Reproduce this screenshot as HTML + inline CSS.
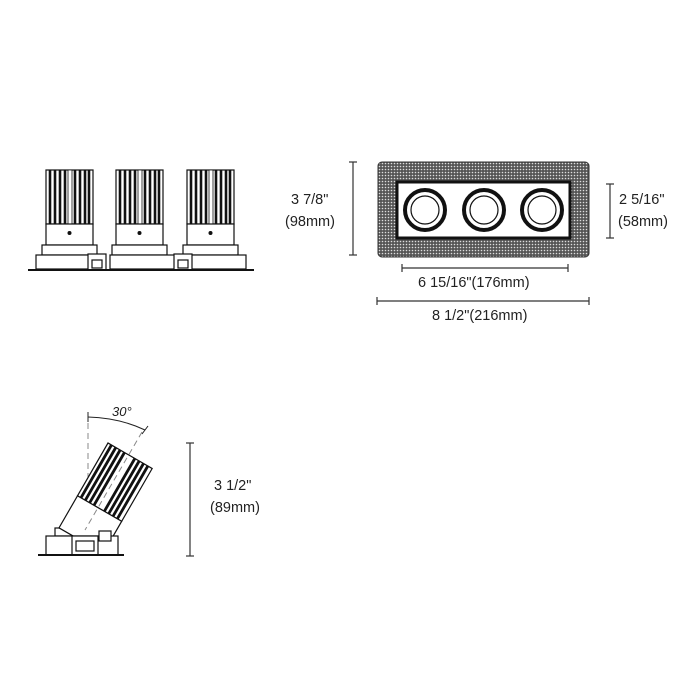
<!DOCTYPE html>
<html><head><meta charset="utf-8"><style>
html,body{margin:0;padding:0;background:#fff;}
svg{display:block;}
text{font-family:"Liberation Sans",sans-serif;font-size:14.5px;fill:#222;}
</style></head><body>
<svg width="700" height="700" viewBox="0 0 700 700" xmlns="http://www.w3.org/2000/svg">
<defs>
<pattern id="dots" width="3" height="3" patternUnits="userSpaceOnUse">
<rect width="3" height="3" fill="#555"/><circle cx="1.5" cy="1.5" r="0.8" fill="#ddd"/>
</pattern>
<g id="cyl">
<rect x="0" y="0" width="47" height="54" fill="#fff" stroke="#111" stroke-width="1.2"/>
<g stroke="#111" stroke-width="2.6">
<line x1="4" y1="0" x2="4" y2="54"/><line x1="9" y1="0" x2="9" y2="54"/><line x1="14" y1="0" x2="14" y2="54"/>
<line x1="19" y1="0" x2="19" y2="54"/><line x1="29" y1="0" x2="29" y2="54"/><line x1="34" y1="0" x2="34" y2="54"/>
<line x1="39" y1="0" x2="39" y2="54"/><line x1="43" y1="0" x2="43" y2="54"/>
</g>
<rect x="22" y="0" width="4" height="54" fill="#fff" stroke="#111" stroke-width="0.8"/>
<rect x="0" y="54" width="47" height="21" fill="#fff" stroke="#111" stroke-width="1.2"/>
<circle cx="23.5" cy="63" r="2" fill="#111"/>
</g>
</defs>

<!-- Front view -->
<use href="#cyl" x="46" y="170"/>
<use href="#cyl" x="116" y="170"/>
<use href="#cyl" x="187" y="170"/>
<g fill="#fff" stroke="#111" stroke-width="1.2">
<rect x="42" y="245" width="55" height="10"/><rect x="112" y="245" width="55" height="10"/><rect x="183" y="245" width="55" height="10"/>
<rect x="36" y="255" width="54" height="14"/><rect x="110" y="255" width="65" height="14"/><rect x="180" y="255" width="66" height="14"/>
<rect x="88" y="254" width="18" height="16"/><rect x="174" y="254" width="18" height="16"/>
<rect x="92" y="260" width="10" height="8"/><rect x="178" y="260" width="10" height="8"/>
</g>
<line x1="28" y1="270" x2="254" y2="270" stroke="#111" stroke-width="2"/>

<!-- Top view -->
<rect x="378" y="162" width="211" height="95" rx="4" fill="url(#dots)" stroke="#333" stroke-width="1"/>
<rect x="397" y="182" width="173" height="56" fill="#fff" stroke="#111" stroke-width="3"/>
<g fill="#fff" stroke="#111">
<circle cx="425" cy="210" r="20" stroke-width="4"/><circle cx="425" cy="210" r="14" stroke-width="1.2"/>
<circle cx="484" cy="210" r="20" stroke-width="4"/><circle cx="484" cy="210" r="14" stroke-width="1.2"/>
<circle cx="542" cy="210" r="20" stroke-width="4"/><circle cx="542" cy="210" r="14" stroke-width="1.2"/>
</g>

<!-- dimensions -->
<g stroke="#333" stroke-width="1.2" fill="none">
<line x1="353" y1="162" x2="353" y2="255"/><line x1="349" y1="162" x2="357" y2="162"/><line x1="349" y1="255" x2="357" y2="255"/>
<line x1="610" y1="184" x2="610" y2="238"/><line x1="606" y1="184" x2="614" y2="184"/><line x1="606" y1="238" x2="614" y2="238"/>
<line x1="402" y1="268" x2="568" y2="268"/><line x1="402" y1="264" x2="402" y2="272"/><line x1="568" y1="264" x2="568" y2="272"/>
<line x1="377" y1="301" x2="589" y2="301"/><line x1="377" y1="297" x2="377" y2="305"/><line x1="589" y1="297" x2="589" y2="305"/>
<line x1="190" y1="443" x2="190" y2="556"/><line x1="186" y1="443" x2="194" y2="443"/><line x1="186" y1="556" x2="194" y2="556"/>
</g>
<text x="291" y="204">3  7/8"</text>
<text x="285" y="226">(98mm)</text>
<text x="619" y="204">2  5/16"</text>
<text x="618" y="226">(58mm)</text>
<text x="418" y="287">6  15/16"(176mm)</text>
<text x="432" y="320">8  1/2"(216mm)</text>
<text x="214" y="490">3  1/2"</text>
<text x="210" y="512">(89mm)</text>

<!-- tilted side view -->
<line x1="88" y1="413" x2="88" y2="545" stroke="#888" stroke-width="1" stroke-dasharray="6,4"/>
<path d="M88,417 Q120,418 145,430" fill="none" stroke="#222" stroke-width="1"/>
<line x1="88" y1="412" x2="88" y2="422" stroke="#222" stroke-width="1"/>
<line x1="142" y1="434" x2="148" y2="426" stroke="#222" stroke-width="1"/>
<text x="112" y="416" style="font-style:italic;font-size:13px">30°</text>
<g fill="#fff" stroke="#111" stroke-width="1.2">
<rect x="55" y="528" width="40" height="8"/>
</g>
<g transform="translate(108 443) rotate(30)">
<rect x="0" y="0" width="51" height="61" fill="#fff" stroke="#111" stroke-width="1.2"/>
<g stroke="#111" stroke-width="2.8">
<line x1="4" y1="0" x2="4" y2="61"/><line x1="9" y1="0" x2="9" y2="61"/><line x1="14" y1="0" x2="14" y2="61"/>
<line x1="19" y1="0" x2="19" y2="61"/><line x1="31" y1="0" x2="31" y2="61"/><line x1="36" y1="0" x2="36" y2="61"/>
<line x1="41" y1="0" x2="41" y2="61"/><line x1="46" y1="0" x2="46" y2="61"/>
</g>
<rect x="0" y="61" width="51" height="37" fill="#fff" stroke="#111" stroke-width="1.2"/>
</g>
<line x1="142" y1="432" x2="85" y2="530" stroke="#888" stroke-width="1" stroke-dasharray="6,4"/>
<g fill="#fff" stroke="#111" stroke-width="1.2">
<rect x="46" y="536" width="72" height="19"/>
<rect x="72" y="536" width="26" height="19"/>
<rect x="76" y="541" width="18" height="10"/>
<rect x="99" y="531" width="12" height="10"/>
</g>
<line x1="38" y1="555" x2="124" y2="555" stroke="#111" stroke-width="2"/>
</svg>
</body></html>
